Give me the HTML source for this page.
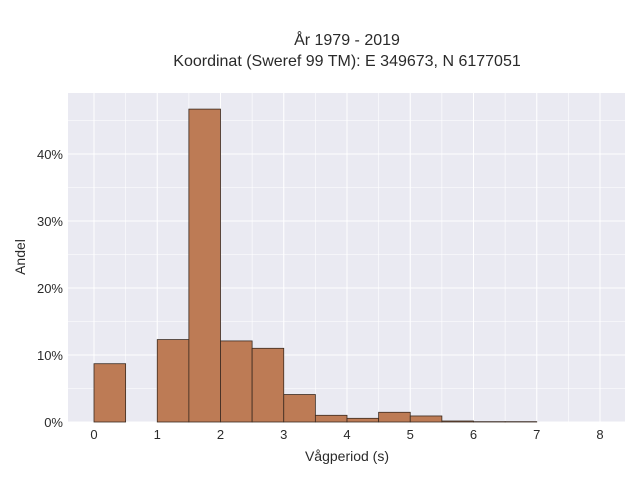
<!DOCTYPE html>
<html><head><meta charset="utf-8"><style>
body{margin:0;background:#fff;}
text{font-family:"Liberation Sans",sans-serif;fill:#2a2a2a;}
</style></head><body>
<svg id="chart" width="640" height="480">
<rect x="68" y="93" width="557" height="329" fill="#eaeaf2"/>
<g id="grid"></g><g id="bars"></g><g id="ticks"></g>
<text x="347" y="45" text-anchor="middle" font-size="16">År 1979 - 2019</text>
<text x="347" y="66" text-anchor="middle" font-size="16">Koordinat (Sweref 99 TM): E 349673, N 6177051</text>
<text x="347" y="461" text-anchor="middle" font-size="14">Vågperiod (s)</text>
<text x="25" y="257" text-anchor="middle" font-size="14" transform="rotate(-90 25 257)">Andel</text>
</svg>
<script>
const binStarts=[0,0.5,1,1.5,2,2.5,3,3.5,4,4.5,5,5.5,6,6.5];
const shares=[8.7,0,12.3,46.7,12.1,11.0,4.1,1.0,0.55,1.45,0.9,0.15,0.05,0.05];
const xTicks=[0,1,2,3,4,5,6,7,8];
const yTicks=[0,10,20,30,40];
const binWidth=0.5;
const ns="http://www.w3.org/2000/svg";
const X=v=>94+v*63.25, Y=v=>422-v*6.7;
function mk(t,a,p){const e=document.createElementNS(ns,t);for(const k in a)e.setAttribute(k,a[k]);p.appendChild(e);return e;}
const grid=document.getElementById('grid'),bars=document.getElementById('bars'),ticks=document.getElementById('ticks');
for(let v=0;v<=8.5;v+=0.5){const l=mk('line',{x1:X(v),x2:X(v),y1:93,y2:422,stroke:'#fff','stroke-width':v%1?0.6:1},grid);

}
for(let v=0;v<=48;v+=5){const l=mk('line',{x1:68,x2:625,y1:Y(v),y2:Y(v),stroke:'#fff','stroke-width':v%10?0.6:1},grid);

}
binStarts.forEach((s,i)=>{if(shares[i]<=0)return;const r=mk('rect',{x:X(s),y:Y(shares[i]),width:X(s+binWidth)-X(s),height:Y(0)-Y(shares[i]),fill:'#bd7b55',stroke:'#3a2a20','stroke-width':0.8},bars);

});
xTicks.forEach(v=>{const t=mk('text',{x:X(v),y:439,'text-anchor':'middle','font-size':13},ticks);t.textContent=v;

});
yTicks.forEach(v=>{const t=mk('text',{x:63,y:Y(v)+5,'text-anchor':'end','font-size':13},ticks);t.textContent=v+'%';

});
</script>
</body></html>
